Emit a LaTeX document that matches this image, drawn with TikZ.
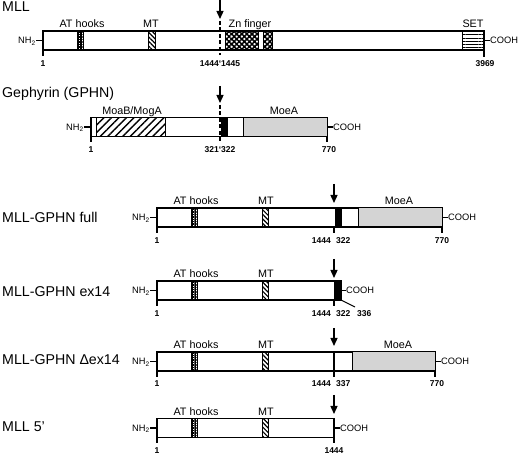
\documentclass[tikz,border=0pt]{standalone}
\usepackage{fontspec}
\setmainfont{Liberation Sans}
\usetikzlibrary{arrows.meta,patterns.meta}

\begin{document}
\begin{tikzpicture}[x=1pt, y=-1pt,
    barra/.style={draw, line width=1.1pt, fill=white},
    eje/.style={line width=1.6pt},
    marca/.style={line width=1.1pt},
    corte/.style={line width=1.3pt, -{Triangle[length=8pt,width=7pt]}},
    guia/.style={line width=1.3pt, dash pattern=on 4pt off 2.5pt},
    titulo/.style={anchor=base west, inner sep=0pt, font=\fontsize{14.2}{16}\selectfont},
    dom/.style={anchor=base, inner sep=0pt, font=\fontsize{10.8}{12}\selectfont},
    num/.style={anchor=base, inner sep=0pt, font=\fontsize{8.5}{10}\selectfont\bfseries},
    ext/.style={inner sep=0pt, font=\fontsize{9.3}{10}\selectfont},
    athook/.style={draw, line width=0.7pt, pattern={Hatch[angle=0,distance=1.7pt,line width=0.45pt]}},
    mt/.style={draw, line width=0.7pt, pattern={Lines[angle=-45,distance=3.2pt,line width=1.2pt]}},
    moab/.style={draw, line width=0.9pt, pattern={Lines[angle=45,distance=5.3pt,line width=1.3pt]}},
    zinc/.style={draw, line width=0.7pt, pattern={Hatch[angle=45,distance=3.6pt,line width=1.5pt]}},
    setdom/.style={draw, line width=0.7pt, pattern={Lines[angle=0,distance=3.2pt,line width=0.9pt]}},
    moea/.style={draw, line width=1pt, fill=black!17},
    exon/.style={draw, line width=0.7pt, fill=black}]

    \useasboundingbox (0,0) rectangle (520,454);

    % MLL
    \node[titulo] (tMLL) at (2,11.5) {MLL};
    \draw[barra] (43,31) rectangle (484,50);
    \draw[athook] (77,31) rectangle (83,50);
    \draw[mt] (148,31) rectangle (155,50);
    \draw[zinc] (225,31) rectangle (258,50);
    \draw[zinc] (263,31) rectangle (272,50);
    \draw[setdom] (462,31) rectangle (484,50);
    \draw[eje] (43,50) -- (484,50);
    \draw[marca] (43,50) -- (43,56);
    \draw[marca] (484,50) -- (484,57);
    \draw[guia] (220,21) -- (220,55);
    \draw[corte] (220,0) -- (220,19);
    \node[dom] at (82,28) {AT hooks};
    \node[dom] at (151,28) {MT};
    \node[dom] at (250,28) {Zn finger};
    \node[dom] at (473,28) {SET};
    \node[num] at (43,66.5) {1};
    \node[num] at (220,66.5) {1444\textquoteleft 1445};
    \node[num] at (485,66.5) {3969};
    \coordinate (mllIzq) at (43,40.5);
    \coordinate (mllDer) at (484,40.5);
    \node[ext, anchor=base east] (nh1) at (36,44) {NH\textsubscript{2}};
    \node[ext, anchor=base west] (co1) at (490,44) {COOH};
    \draw[marca] (nh1.east |- mllIzq) -- (mllIzq);
    \draw[marca] (mllDer) -- (co1.west |- mllDer);

    % Gefirina
    \node[titulo] (tGPHN) at (2,98) {Gephyrin (GPHN)};
    \draw[barra] (91,117.5) rectangle (327,136.5);
    \draw[moab] (96,117.5) rectangle (165,136.5);
    \draw[exon] (221,117.5) rectangle (227,136.5);
    \draw[moea] (243,117.5) rectangle (327,136.5);
    \draw[eje] (91,136.5) -- (327,136.5);
    \draw[marca] (91,136.5) -- (91,142.5);
    \draw[marca] (327,136.5) -- (327,142.5);
    \draw[guia] (220,105) -- (220,141);
    \draw[corte] (220,86) -- (220,103);
    \node[dom] at (132,114.5) {MoaB/MogA};
    \node[dom] at (284,114.5) {MoeA};
    \node[num] at (91,153) {1};
    \node[num] at (220,153) {321\textquoteleft 322};
    \node[num] at (329,153) {770};
    \coordinate (gpIzq) at (91,127);
    \coordinate (gpDer) at (327,127);
    \node[ext, anchor=base east] (nh2) at (84,130.5) {NH\textsubscript{2}};
    \node[ext, anchor=base west] (co2) at (333,130.5) {COOH};
    \draw[marca] (nh2.east |- gpIzq) -- (gpIzq);
    \draw[marca] (gpDer) -- (co2.west |- gpDer);

    % MLL-GPHN completa
    \node[titulo] (tFull) at (2,223) {MLL-GPHN full};
    \draw[barra] (157,208) rectangle (442,227);
    \draw[athook] (191,208) rectangle (197,227);
    \draw[mt] (262,208) rectangle (268,227);
    \draw[exon] (335,208) rectangle (341,227);
    \draw[moea] (358,208) rectangle (442,227);
    \draw[eje] (157,227) -- (442,227);
    \draw[marca] (157,227) -- (157,233);
    \draw[marca] (334,227) -- (334,233);
    \draw[marca] (442,227) -- (442,233);
    \draw[corte] (334,184) -- (334,203);
    \node[dom] at (196,205) {AT hooks};
    \node[dom] at (266,205) {MT};
    \node[dom] at (399,205) {MoeA};
    \node[num] at (157,243.5) {1};
    \node[num, anchor=base east] at (331,243.5) {1444};
    \node[num, anchor=base west] at (336,243.5) {322};
    \node[num] at (442,243.5) {770};
    \coordinate (fuIzq) at (157,217.5);
    \coordinate (fuDer) at (442,217.5);
    \node[ext, anchor=base east] (nh3) at (150,221) {NH\textsubscript{2}};
    \node[ext, anchor=base west] (co3) at (448,221) {COOH};
    \draw[marca] (nh3.east |- fuIzq) -- (fuIzq);
    \draw[marca] (fuDer) -- (co3.west |- fuDer);

    % MLL-GPHN ex14
    \node[titulo] (tEx) at (2,297) {MLL-GPHN ex14};
    \draw[barra] (157,281) rectangle (341,300);
    \draw[athook] (191,281) rectangle (197,300);
    \draw[mt] (262,281) rectangle (268,300);
    \draw[exon] (334,281) rectangle (341,300);
    \draw[eje] (157,300) -- (341,300);
    \draw[marca] (157,300) -- (157,306);
    \draw[marca] (334,300) -- (334,306);
    \draw[marca] (341,300) -- (355,307);
    \draw[corte] (334,259) -- (334,278);
    \node[dom] at (196,278) {AT hooks};
    \node[dom] at (266,278) {MT};
    \node[num] at (157,317) {1};
    \node[num, anchor=base east] at (331,317) {1444};
    \node[num, anchor=base west] at (336,317) {322};
    \node[num, anchor=base west] at (357,317) {336};
    \coordinate (exIzq) at (157,290.5);
    \coordinate (exDer) at (341,290.5);
    \node[ext, anchor=base east] (nh4) at (150,294) {NH\textsubscript{2}};
    \node[ext, anchor=base west] (co4) at (346,294) {COOH};
    \draw[marca] (nh4.east |- exIzq) -- (exIzq);
    \draw[marca] (exDer) -- (co4.west |- exDer);

    % MLL-GPHN sin ex14
    \node[titulo] (tDel) at (2,365) {MLL-GPHN Δex14};
    \draw[barra] (157,352) rectangle (435,371);
    \draw[athook] (191,352) rectangle (197,371);
    \draw[mt] (262,352) rectangle (268,371);
    \draw[moea] (352,352) rectangle (435,371);
    \draw[marca] (334,352) -- (334,371);
    \draw[eje] (157,371) -- (435,371);
    \draw[marca] (157,371) -- (157,377);
    \draw[marca] (334,371) -- (334,377);
    \draw[marca] (435,371) -- (435,377);
    \draw[corte] (334,328) -- (334,346);
    \node[dom] at (196,349) {AT hooks};
    \node[dom] at (266,349) {MT};
    \node[dom] at (398,349) {MoeA};
    \node[num] at (157,387) {1};
    \node[num, anchor=base east] at (331,387) {1444};
    \node[num, anchor=base west] at (336,387) {337};
    \node[num] at (437,387) {770};
    \coordinate (deIzq) at (157,361.5);
    \coordinate (deDer) at (435,361.5);
    \node[ext, anchor=base east] (nh5) at (150,365) {NH\textsubscript{2}};
    \node[ext, anchor=base west] (co5) at (441,365) {COOH};
    \draw[marca] (nh5.east |- deIzq) -- (deIzq);
    \draw[marca] (deDer) -- (co5.west |- deDer);

    % MLL 5'
    \node[titulo] (tCinco) at (2,432) {MLL 5'};
    \draw[barra] (157,418.5) rectangle (334,437.5);
    \draw[athook] (191,418.5) rectangle (197,437.5);
    \draw[mt] (262,418.5) rectangle (268,437.5);
    \draw[eje] (157,437.5) -- (334,437.5);
    \draw[marca] (157,437.5) -- (157,443.5);
    \draw[marca] (334,437.5) -- (334,443.5);
    \draw[corte] (334,395) -- (334,414);
    \node[dom] at (196,415.5) {AT hooks};
    \node[dom] at (266,415.5) {MT};
    \node[num] at (157,453.5) {1};
    \node[num] at (334,453.5) {1444};
    \coordinate (ciIzq) at (157,428);
    \coordinate (ciDer) at (334,428);
    \node[ext, anchor=base east] (nh6) at (150,431.5) {NH\textsubscript{2}};
    \node[ext, anchor=base west] (co6) at (340,431.5) {COOH};
    \draw[marca] (nh6.east |- ciIzq) -- (ciIzq);
    \draw[marca] (ciDer) -- (co6.west |- ciDer);

\end{tikzpicture}
\end{document}
